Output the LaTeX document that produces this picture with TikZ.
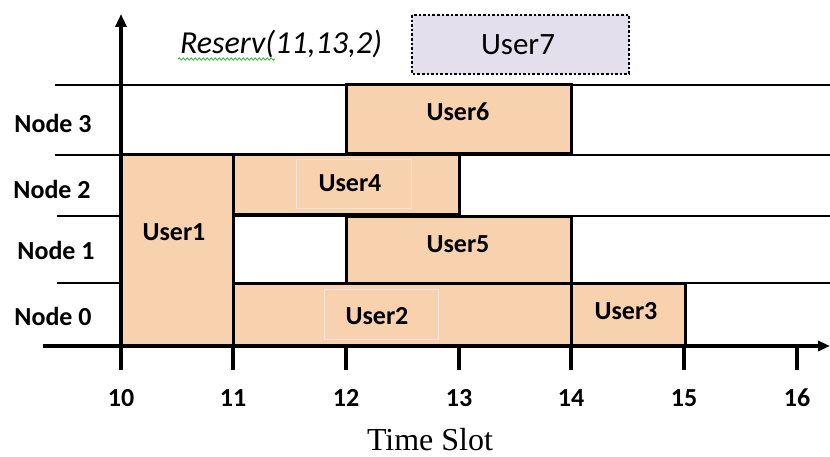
\documentclass[tikz,border=0pt]{standalone}
\usepackage{fontspec}
\setmainfont{Carlito}
\newfontfamily\timesfont{Liberation Serif}
\usetikzlibrary{arrows.meta,decorations.pathmorphing}
\definecolor{peach}{HTML}{F8D1AF}
\definecolor{lavender}{HTML}{E4DFEC}
\definecolor{faint}{HTML}{F3E3DA}
\definecolor{spell}{HTML}{3CB043}
\begin{document}
\begin{tikzpicture}[x=1pt,y=-1pt,
  gridline/.style={line width=2.6pt},
  slotbox/.style={draw, line width=3pt, fill=peach},
  userlab/.style={font=\fontsize{26}{30}\selectfont\bfseries, inner sep=0pt},
  nodelab/.style={font=\fontsize{26}{30}\selectfont\bfseries, inner sep=0pt},
  ticklab/.style={font=\fontsize{26}{30}\selectfont\bfseries, inner sep=0pt},
  axisline/.style={line width=3.2pt},
  tickline/.style={line width=3.2pt}]
\useasboundingbox (0,0) rectangle (830,457);
% grid lines
\coordinate (g3l) at (55,85);   \coordinate (g3r) at (830,85);
\coordinate (g2l) at (55,155);  \coordinate (g2r) at (830,155);
\coordinate (g1l) at (57,216);  \coordinate (g1r) at (830,216);
\coordinate (g0l) at (57,283);  \coordinate (g0r) at (830,283);
\draw[gridline] (g3l) -- (g3r);
\draw[gridline] (g2l) -- (g2r);
\draw[gridline] (g1l) -- (g1r);
\draw[gridline] (g0l) -- (g0r);
% slot boxes
\draw[slotbox] (121,155) rectangle (233,346);
\draw[slotbox] (233,155) rectangle (459,215);
\draw[slotbox] (346,217) rectangle (571,283);
\draw[slotbox] (233,283) rectangle (571,346);
\draw[slotbox] (346,85) rectangle (571,154);
\draw[slotbox] (571,283) rectangle (685,346);
\draw[line width=2.6pt, dotted, fill=lavender] (412,15) rectangle (629,74);
% faint text frames
\draw[faint, line width=0.8pt] (296,159) rectangle (411,208);
\draw[faint, line width=0.8pt] (324,289) rectangle (438,339);
% labels
\node[userlab] (u1) at (174,232) {User1};
\node[userlab] (u4) at (350,183) {User4};
\node[userlab] (u5) at (458,244) {User5};
\node[userlab] (u2) at (377,316) {User2};
\node[userlab] (u6) at (458,112) {User6};
\node[userlab] (u3) at (626,311) {User3};
\node[font=\fontsize{31}{34}\selectfont, inner sep=0pt] (u7) at (518,45) {User7};
\node[font=\fontsize{32}{36}\selectfont\itshape, inner sep=0pt] (res) at (281,44) {Reserv(11,13,2)};
\draw[spell, line width=0.8pt, decorate, decoration={snake, amplitude=1.2pt, segment length=4pt}] (178,59) -- (275,59);
\node[nodelab] (n3) at (53,123) {Node 3};
\node[nodelab] (n2) at (52,189) {Node 2};
\node[nodelab] (n1) at (56,250) {Node 1};
\node[nodelab] (n0) at (53,316) {Node 0};
% axes
\coordinate (xs) at (43,346); \coordinate (xe) at (830,346);
\coordinate (ys) at (121,370); \coordinate (ye) at (121,14);
\draw[axisline, -{Triangle[length=12pt,width=10pt]}] (xs) -- (xe);
\draw[axisline, -{Triangle[length=13pt,width=11pt]}] (ys) -- (ye);
\foreach \x/\v in {233/11,346/12,459/13,571/14,684/15,797/16}{
  \draw[tickline] (\x,346) -- (\x,370);
}
\foreach \x/\v in {121/10,233/11,346/12,459/13,571/14,684/15,797/16}{
  \node[ticklab] (t\v) at (\x,398) {\v};
}
\node[font=\timesfont\fontsize{32}{36}\selectfont, inner sep=0pt] (xlab) at (430,440) {Time Slot};
\end{tikzpicture}
\end{document}
